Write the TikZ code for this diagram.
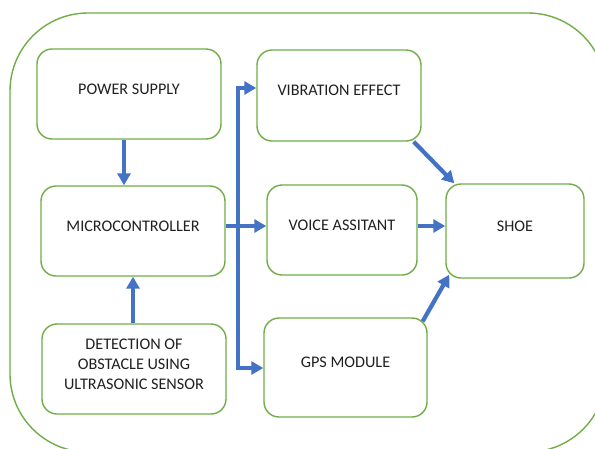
\documentclass[tikz,border=0pt]{standalone}
\usepackage{fontspec}
\setmainfont{Carlito}
\usetikzlibrary{arrows.meta}
\definecolor{boxgreen}{HTML}{70AD47}
\definecolor{flowblue}{HTML}{4472C4}
\definecolor{txt}{HTML}{202020}
\tikzset{
  blk/.style={draw=boxgreen, line width=1.4pt, rounded corners=15pt, fill=white, inner sep=0pt},
  lbl/.style={font=\fontsize{16.2}{20}\selectfont, text=txt, align=center, yshift=5pt},
  flow/.style={draw=flowblue, line width=4.2pt, line join=miter,
    -{Triangle[length=12pt,width=13pt]}},
  flowboth/.style={draw=flowblue, line width=4.2pt, line join=miter,
    {Triangle[length=12pt,width=13pt]}-{Triangle[length=12pt,width=13pt]}},
}
\begin{document}
\begin{tikzpicture}[x=1pt, y=-1pt]
  \useasboundingbox (0,0) rectangle (595,448);
  \begin{scope}
    \clip (0,0) rectangle (595,448);
    % outer frame
    \draw[boxgreen, line width=1.4pt, rounded corners=78pt] (10,13) rectangle (606,452);
  \end{scope}

  % blocks
  \node[blk, minimum width=184pt, minimum height=90pt] (ps)  at (129,94)   {};
  \node[blk, minimum width=184pt, minimum height=90pt] (mc)  at (133,231)  {};
  \node[blk, minimum width=184pt, minimum height=90pt] (det) at (134,369)  {};
  \node[blk, minimum width=164pt, minimum height=91pt] (vb)  at (339,95.5) {};
  \node[blk, minimum width=150pt, minimum height=90pt] (vo)  at (342,230)  {};
  \node[blk, minimum width=163pt, minimum height=99pt] (gps) at (345.5,367.5) {};
  \node[blk, minimum width=138pt, minimum height=94pt] (sh)  at (515,231)  {};

  % labels
  \node[lbl] (ps-t)  at (ps)  {POWER SUPPLY};
  \node[lbl] (mc-t)  at (mc)  {MICROCONTROLLER};
  \node[lbl] (det-t) at (det) {DETECTION OF\\OBSTACLE USING\\ULTRASONIC SENSOR};
  \node[lbl] (vb-t)  at (vb)  {VIBRATION EFFECT};
  \node[lbl] (vo-t)  at (vo)  {VOICE ASSITANT};
  \node[lbl] (gps-t) at (gps) {GPS MODULE};
  \node[lbl] (sh-t)  at (sh)  {SHOE};

  % branch points of the output bus
  \coordinate (bt) at (238,88);
  \coordinate (bb) at (238,368);

  % connectors
  \draw[flow] ([xshift=-5pt]ps.south) -- ([xshift=-5pt]ps.south |- mc.north);
  \draw[flow] (det.north -| mc.south) -- (mc.south);
  \draw[flow] ([yshift=5pt]mc.east) -- ([yshift=5pt]mc.east -| vo.west);
  \draw[flowboth] (vb.west |- bt) -- (bt) -- (bb) -- (gps.west |- bb);
  \draw[flow] ([xshift=-8pt]vb.south east) -- ([xshift=9pt]sh.north west);
  \draw[flow] ([yshift=4pt]vo.east) -- ([yshift=4pt]vo.east -| sh.west);
  \draw[flow] ([xshift=-5pt,yshift=-4pt]gps.north east) -- ([xshift=4pt,yshift=4pt]sh.south west);
\end{tikzpicture}
\end{document}
